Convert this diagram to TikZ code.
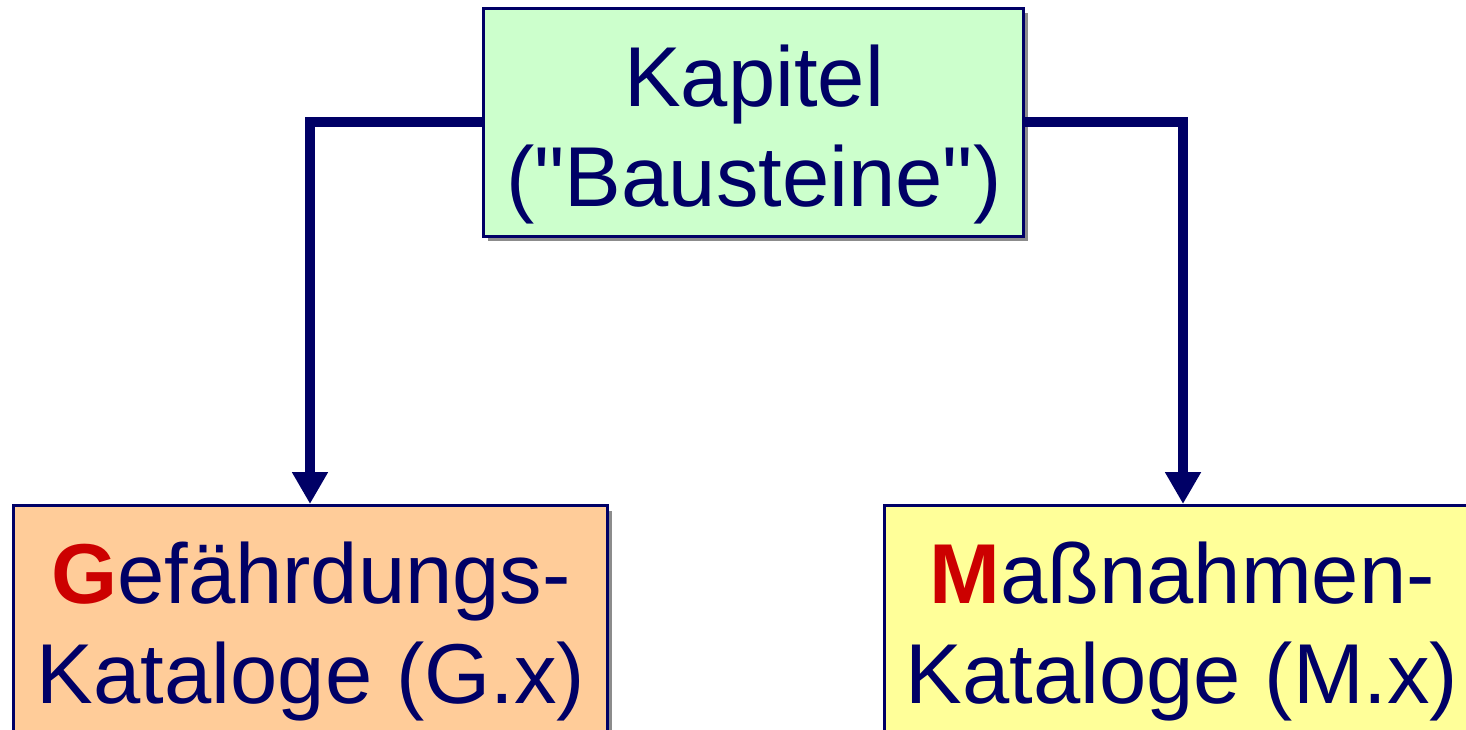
\documentclass[tikz,border=0pt]{standalone}
\usepackage{fontspec}
\setmainfont{Liberation Sans}[Ligatures=TeXOff]
\usetikzlibrary{arrows.meta,shadows}
\definecolor{navy}{HTML}{000066}
\definecolor{boxgreen}{HTML}{CCFFCC}
\definecolor{boxorange}{HTML}{FFCC99}
\definecolor{boxyellow}{HTML}{FFFF99}
\definecolor{hired}{HTML}{CC0000}
\tikzset{
  box/.style={draw=navy, line width=3pt, rectangle, inner sep=0pt,
    drop shadow={shadow xshift=5pt, shadow yshift=-5pt, fill=black!45, opacity=1}},
  txt/.style={text=navy, align=center, inner sep=0pt,
    font=\fontsize{85}{100}\selectfont},
  conn/.style={draw=navy, line width=10pt, line join=miter,
    -{Triangle[width=34pt,length=32pt]}},
}
\begin{document}
\begin{tikzpicture}[x=1pt,y=-1pt]
\useasboundingbox (0,0) rectangle (1466,729);
\clip (0,0) rectangle (1466,729);
\node[box, fill=boxgreen, minimum width=540pt, minimum height=228pt] (k) at (753,122) {};
\node[txt] (kt) at (754,134) {Kapitel\\("Bausteine")};
\node[box, fill=boxorange, minimum width=594pt, minimum height=300pt, anchor=north] (g) at (310,504) {};
\node[txt] (gt) at (311,632) {\textcolor{hired}{\textbf{G}}efährdungs-\\Kataloge (G.x)};
\node[box, fill=boxyellow, minimum width=598pt, minimum height=300pt, anchor=north] (m) at (1183,504) {};
\node[txt] (mt) at (1182,632) {\textcolor{hired}{\textbf{M}}aßnahmen-\\Kataloge (M.x)};
\draw[conn] (k.west) -| (g.north);
\draw[conn] (k.east) -| (m.north);
\end{tikzpicture}
\end{document}
